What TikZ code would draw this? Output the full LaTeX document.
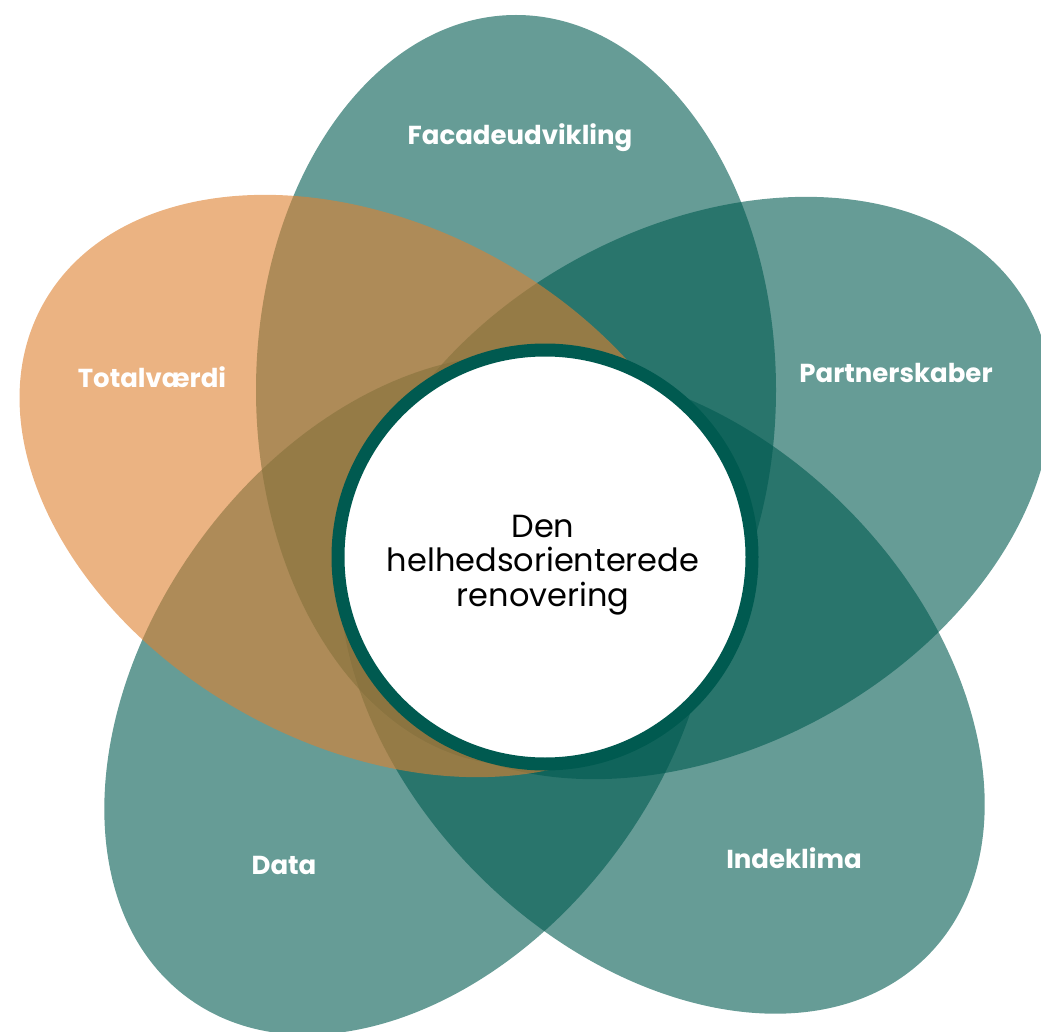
\documentclass[tikz,border=0pt]{standalone}
\usepackage{fontspec}
\setmainfont{Poppins}
\usetikzlibrary{shapes.geometric}
\definecolor{deepteal}{RGB}{0,90,80}
\definecolor{amber}{RGB}{222,128,47}
\tikzset{
	petal/.style={ellipse, minimum width=520, minimum height=750, inner sep=0, fill=deepteal, fill opacity=0.6},
	warm/.style={petal, fill=amber},
	tag/.style={anchor=base, text=white, font=\bfseries\fontsize{26}{30}\selectfont},
	hub/.style={circle, minimum size=414, inner sep=0, draw=deepteal, line width=13, fill=white},
	hubtext/.style={align=center, inner sep=0, font=\fontsize{32}{34.3}\selectfont},
}

\begin{document}
\begin{tikzpicture}[x=1pt,y=-1pt]
		\useasboundingbox (0,0) rectangle (1041,1032);
		\node[petal] (facade) at (516,390) {};
		\node[petal, rotate=-61] (partner) at (700,488) {};
		\node[petal, rotate=45] (indeklima) at (662,691) {};
		\node[petal, rotate=-36] (data) at (409,695) {};
		\node[warm, rotate=61] (total) at (371,486) {};

		\node[hub] (core) at (545,557) {};
		\node[hubtext] (coretext) at (543,565) {Den\\helhedsorienterede\\renovering};

		\node[tag] (lfacade) at (520,145) {Facadeudvikling};
		\node[tag] (lpartner) at (896,382) {Partnerskaber};
		\node[tag] (lindeklima) at (794,868) {Indeklima};
		\node[tag] (ldata) at (284,874) {Data};
		\node[tag] (ltotal) at (152,387) {Totalværdi};
	\end{tikzpicture}
\end{document}
